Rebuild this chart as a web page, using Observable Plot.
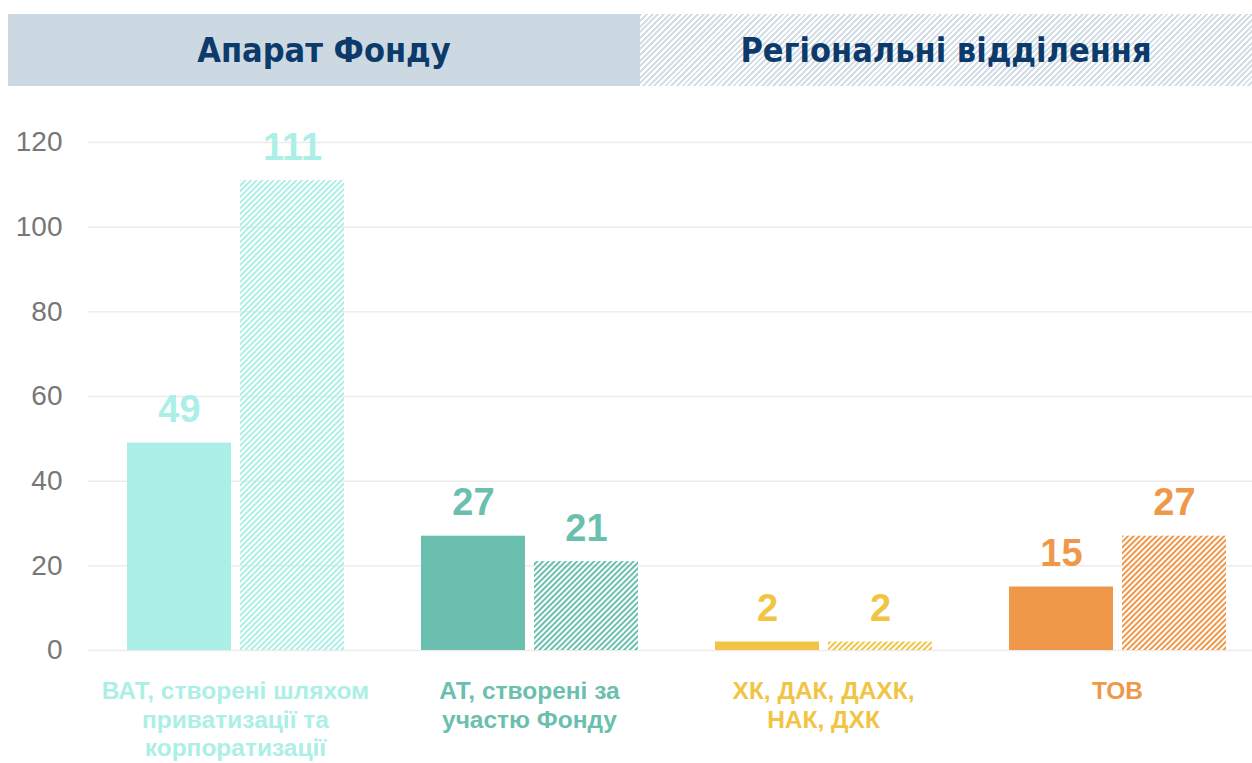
<!DOCTYPE html>
<html><head><meta charset="utf-8">
<script src="https://cdn.jsdelivr.net/npm/d3@7"></script>
<script src="https://cdn.jsdelivr.net/npm/@observablehq/plot@0.6"></script>
<style>
body{margin:0;background:#fff;width:1252px;height:763px;overflow:hidden;font-family:"Liberation Sans",Arial,sans-serif;position:relative}
#chart{position:absolute;top:0;left:0}
#hdr{position:absolute;top:14px;left:8px;width:1244px;height:72px;display:flex;z-index:2}
#hdr div{display:flex;align-items:center;justify-content:center;font-family:"Liberation Sans Narrow","DejaVu Sans Condensed",sans-serif;font-weight:bold;font-size:34px;color:#0b3a6b}
#h1{width:632px;background:#cdd9e2}
#h2{flex:1;background:repeating-linear-gradient(135deg,#d4dee7 0 2px,#ffffff 2px 4px)}
</style></head>
<body>
<div id="chart"></div>
<div id="hdr"><div id="h1">Апарат Фонду</div><div id="h2">Регіональні відділення</div></div>
<script>
const categories = ["ВАТ, створені шляхом приватизації та корпоратизації", "АТ, створені за участю Фонду", "ХК, ДАК, ДАХК, НАК, ДХК", "ТОВ"];
const categoryLabels = ["ВАТ, створені шляхом\nприватизації та\nкорпоратизації", "АТ, створені за\nучастю Фонду", "ХК, ДАК, ДАХК,\nНАК, ДХК", "ТОВ"];
const series = ["Апарат Фонду", "Регіональні відділення"];
const apparat = [49, 27, 2, 15];
const regional = [111, 21, 2, 27];
const colors = ["#acefe7", "#6bbfae", "#f1c443", "#f0984a"];
const yTicks = [0, 20, 40, 60, 80, 100, 120];

const rows = categories.flatMap((c, i) => [
  {cat: c, series: series[0], value: apparat[i], color: colors[i], fill: colors[i]},
  {cat: c, series: series[1], value: regional[i], color: colors[i], fill: `url(#hatch${i})`}
]);

const defs = () => {
  const ns = "http://www.w3.org/2000/svg";
  const d = document.createElementNS(ns, "defs");
  colors.forEach((c, i) => {
    const p = document.createElementNS(ns, "pattern");
    p.setAttribute("id", "hatch" + i);
    p.setAttribute("width", "4");
    p.setAttribute("height", "4");
    p.setAttribute("patternUnits", "userSpaceOnUse");
    p.setAttribute("patternTransform", "rotate(45)");
    const r = document.createElementNS(ns, "rect");
    r.setAttribute("width", "2");
    r.setAttribute("height", "4");
    r.setAttribute("fill", c);
    p.appendChild(r);
    d.appendChild(p);
  });
  return d;
};

const chart = Plot.plot({
  width: 1252, height: 763,
  marginTop: 142, marginBottom: 113, marginLeft: 88, marginRight: -12,
  style: {fontFamily: "'Liberation Sans', Arial, sans-serif", background: "transparent", overflow: "visible"},
  fx: {domain: categories, padding: 0, axis: null},
  x: {domain: series, paddingInner: 0.08, paddingOuter: 0.34, axis: null},
  y: {domain: [0, 120], axis: null},
  color: {type: "identity"},
  marks: [
    defs,
    Plot.gridY(yTicks, {stroke: "#ececec", strokeOpacity: 1, strokeWidth: 1.5}),
    Plot.axisY(yTicks, {tickSize: 0, tickPadding: 26, fontSize: 28, fill: "#777", anchor: "left", label: null}),
    Plot.barY(rows, {fx: "cat", x: "series", y: "value", fill: "fill"}),
    Plot.text(rows, {fx: "cat", x: "series", y: "value", text: d => String(d.value), fill: "color", dy: -33, fontSize: 38, fontWeight: "bold"}),
    Plot.text(categories, {fx: d => d, text: d => categoryLabels[categories.indexOf(d)], frameAnchor: "bottom", dy: 28, lineAnchor: "top", lineHeight: 1.17, fontSize: 24.5, fontWeight: "bold", fill: d => colors[categories.indexOf(d)]})
  ]
});
document.getElementById("chart").appendChild(chart);
</script>
</body></html>
